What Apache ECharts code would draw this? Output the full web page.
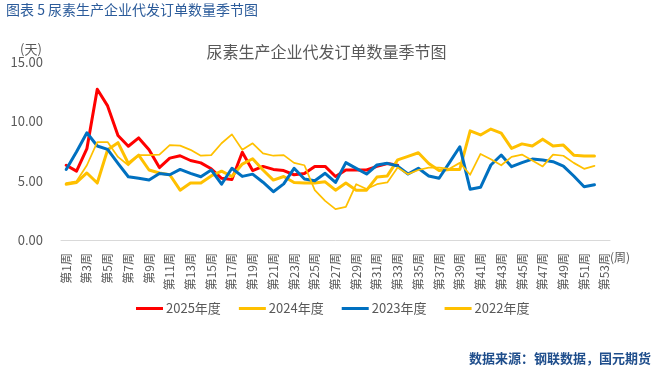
<!DOCTYPE html>
<html>
<head>
<meta charset="utf-8">
<script src="https://cdn.jsdelivr.net/npm/echarts@6/dist/echarts.min.js"></script>
<style>
html,body{margin:0;padding:0;background:#fff;}
#c{width:653px;height:373px;}
</style>
</head>
<body>
<div id="c"></div>
<script>
const weeks = [];
for (let i = 1; i <= 53; i++) weeks.push('第' + i + '周');

const s2025 = [6.3, 5.8, 7.7, 12.7, 11.3, 8.8, 7.9, 8.6, 7.6, 6.1, 6.9, 7.1, 6.7, 6.5, 6.0, 5.2, 5.1, 7.4, 5.85, 6.2, 5.95, 5.85, 5.5, 5.6, 6.2, 6.2, 5.35, 5.9, 5.9, 5.9, 6.2, 6.45, 6.3];
const s2024 = [4.7, 4.85, 5.65, 4.8, 7.6, 8.2, 6.45, 7.15, 5.9, 5.65, 5.5, 4.2, 4.8, 4.8, 5.4, 5.8, 5.35, 6.4, 6.85, 5.9, 5.05, 5.35, 4.85, 4.8, 4.8, 4.9, 4.2, 4.8, 4.2, 4.2, 5.3, 5.4, 6.75, 7.05, 7.35, 6.45, 5.85, 5.95, 5.95, 9.2, 8.85, 9.35, 9.0, 7.72, 8.1, 7.92, 8.5, 7.92, 8.0, 7.15, 7.08, 7.08];
const s2023 = [5.95, 7.44, 9.04, 7.92, 7.64, 6.46, 5.33, 5.2, 5.05, 5.6, 5.5, 5.95, 5.62, 5.33, 5.9, 4.7, 6.05, 5.36, 5.55, 4.87, 4.07, 4.73, 6.04, 5.14, 5.0, 5.62, 4.85, 6.52, 6.04, 5.56, 6.32, 6.46, 6.23, 5.56, 6.04, 5.39, 5.2, 6.52, 7.86, 4.27, 4.44, 6.32, 7.16, 6.18, 6.52, 6.82, 6.74, 6.6, 6.23, 5.39, 4.49, 4.66];
const s2022 = [4.8, 4.95, 6.3, 8.25, 8.25, 7.0, 6.3, 7.15, 7.15, 7.2, 8.0, 7.95, 7.6, 7.1, 7.15, 8.15, 8.9, 7.6, 8.15, 7.3, 7.1, 7.15, 6.5, 6.3, 4.2, 3.3, 2.6, 2.8, 4.7, 4.3, 4.7, 4.85, 6.1, 5.55, 5.9, 6.1, 6.1, 6.0, 6.5, 5.5, 7.25, 6.8, 6.3, 7.0, 7.2, 6.7, 6.2, 7.2, 7.1, 6.5, 6.0, 6.25];
const seriesNames = ['2025年度', '2024年度', '2023年度', '2022年度'];

const FONT = '"Noto Sans CJK SC", "Noto Sans", sans-serif';
const chart = echarts.init(document.getElementById('c'), null, {renderer: 'canvas'});

function mk(name, data, color, width) {
  return {
    name: name, type: 'line', data: data, showSymbol: false, symbol: 'none',
    smooth: false, lineStyle: {color: color, width: width, cap: 'round', join: 'round'},
    itemStyle: {color: color}, animation: false
  };
}

chart.setOption({
  animation: false,
  textStyle: {fontFamily: FONT},
  title: {
    text: '尿素生产企业代发订单数量季节图',
    left: 'center', top: 39,
    textStyle: {fontSize: 16, fontWeight: 'normal', color: '#595959', fontFamily: FONT}
  },
  grid: {left: 61, right: 43, top: 62, bottom: 133, containLabel: false},
  legend: {
    left: 131, top: 297, itemWidth: 27, itemHeight: 3, itemGap: 18, icon: 'rect',
    data: seriesNames,
    textStyle: {fontSize: 13, color: '#595959', fontFamily: FONT, padding: [0, 0, 0, -2]}
  },
  xAxis: {
    type: 'category', data: weeks, boundaryGap: true,
    axisLine: {lineStyle: {color: '#D9D9D9', width: 1}},
    axisTick: {show: false},
    axisLabel: {interval: 1, rotate: 90, fontSize: 12, color: '#595959', margin: 13, fontFamily: FONT}
  },
  yAxis: {
    type: 'value', min: 0, max: 15, interval: 5,
    axisLine: {show: false}, axisTick: {show: false},
    splitLine: {show: false},
    axisLabel: {fontSize: 13, color: '#595959', margin: 18, fontFamily: FONT,
      formatter: v => v.toFixed(2)}
  },
  graphic: [
    {type: 'text', left: 6, top: 3, style: {text: '图表 5 尿素生产企业代发订单数量季节图', fontSize: 14, fill: '#2B5B9A', fontFamily: FONT}},
    {type: 'text', left: 20, top: 43, style: {text: '(天)', fontSize: 13, fill: '#595959', fontFamily: FONT}},
    {type: 'text', left: 610, top: 251, style: {text: '(周)', fontSize: 12, fill: '#595959', fontFamily: FONT}},
    {type: 'text', right: 2, top: 352, style: {text: '数据来源：钢联数据，国元期货', fontSize: 13, fontWeight: 'bold', fill: '#1F4E8C', fontFamily: FONT}}
  ],
  series: [
    mk('2025年度', s2025, '#FF0000', 3),
    mk('2024年度', s2024, '#FFC000', 3),
    mk('2023年度', s2023, '#0070C0', 3),
    mk('2022年度', s2022, '#FFC000', 1.75)
  ]
});
</script>
</body>
</html>
